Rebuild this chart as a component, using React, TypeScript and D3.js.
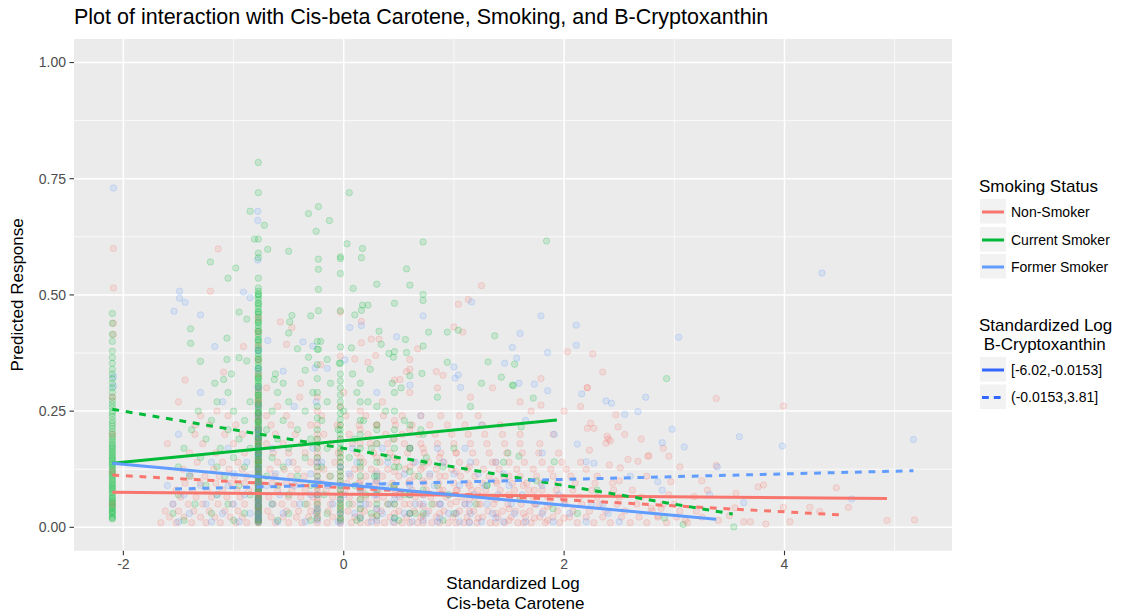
import React from "react";
import * as d3 from "d3";

// ---------- data ----------
const chartTitle = "Plot of interaction with Cis-beta Carotene, Smoking, and B-Cryptoxanthin";
const xTicks = [-2, 0, 2, 4];
const xMinor = [-1, 1, 3, 5];
const yTicks = [0, 0.25, 0.5, 0.75, 1.0];
const yMinor = [0.125, 0.375, 0.625, 0.875];

const smokingGroups = ["Non-Smoker", "Current Smoker", "Former Smoker"];
const groupColors = ["#F8766D", "#00BA38", "#619CFF"];
const cryptoBands = ["[-6.02,-0.0153]", "(-0.0153,3.81]"];

// fitted lines: [group index, band index, x0, y0, x1, y1]
const fitLines: [number, number, number, number, number, number][] = [
  [0, 0, -2.1, 0.0753, 4.93, 0.062],
  [0, 1, -2.1, 0.1125, 4.52, 0.0265],
  [1, 0, -2.1, 0.138, 1.934, 0.231],
  [1, 1, -2.1, 0.254, 3.53, 0.0286],
  [2, 0, -2.1, 0.138, 3.38, 0.0172],
  [2, 1, -1.53, 0.0824, 5.17, 0.1218],
];

// stacked columns of points: [x, y values]
const nonSmokerColumns: [number, number[]][] = [
  [-2.1, [0.05, 0.12, 0.2, 0.28]],
  [-0.775, [0.01, 0.02, 0.03, 0.04, 0.05, 0.06, 0.07, 0.08, 0.095, 0.11, 0.125, 0.14, 0.16, 0.18, 0.2, 0.23, 0.26, 0.29]],
  [-0.775, [0.015, 0.025, 0.035, 0.045, 0.055, 0.065, 0.075, 0.088, 0.1, 0.118, 0.132, 0.15, 0.17, 0.19, 0.215, 0.245, 0.275]],
  [-0.775, [0.012, 0.028, 0.042, 0.058, 0.072, 0.09, 0.105, 0.122, 0.145, 0.165, 0.185, 0.21, 0.238, 0.268, 0.3, 0.33, 0.36, 0.39, 0.42, 0.45]],
  [-0.24, [0.01, 0.025, 0.04, 0.055, 0.07, 0.085, 0.1, 0.12, 0.14, 0.16, 0.19, 0.22, 0.25, 0.28]],
  [-0.24, [0.018, 0.032, 0.048, 0.062, 0.078, 0.093, 0.11, 0.13, 0.15, 0.175, 0.2]],
  [-0.03, [0.008, 0.02, 0.035, 0.05, 0.065, 0.08, 0.1, 0.12, 0.14, 0.165, 0.19, 0.22, 0.26]],
  [-0.03, [0.014, 0.028, 0.042, 0.058, 0.072, 0.09, 0.11, 0.13, 0.152]],
  [0.15, [0.01, 0.025, 0.04, 0.06, 0.08, 0.1, 0.125, 0.15, 0.18, 0.21, 0.25]],
  [0.3, [0.01, 0.025, 0.04, 0.06, 0.08, 0.1, 0.12, 0.15, 0.18, 0.22]],
  [0.46, [0.01, 0.03, 0.05, 0.07, 0.09, 0.12, 0.15, 0.19, 0.23]],
  [0.6, [0.01, 0.03, 0.05, 0.07, 0.1, 0.13, 0.17, 0.21]],
  [0.72, [0.01, 0.025, 0.045, 0.07, 0.1, 0.13, 0.17]],
  [0.87, [0.01, 0.03, 0.05, 0.08, 0.11, 0.15]],
  [1.02, [0.01, 0.03, 0.055, 0.08, 0.12, 0.16]],
  [1.14, [0.012, 0.035, 0.06, 0.09, 0.13]],
  [1.22, [0.02, 0.05, 0.08]],
  [1.38, [0.01, 0.03, 0.06, 0.1, 0.14]],
  [1.5, [0.015, 0.04, 0.07, 0.11]],
  [1.63, [0.01, 0.03, 0.06, 0.09]],
  [1.73, [0.02, 0.05, 0.08]],
  [1.85, [0.015, 0.045]],
  [2.0, [0.02, 0.06]],
];

const currentColumns: [number, number[]][] = [
  [-2.1, [0.018, 0.022, 0.027, 0.031, 0.036, 0.04, 0.046, 0.052, 0.058, 0.065, 0.07, 0.078, 0.085, 0.092, 0.1, 0.108, 0.115, 0.122, 0.13, 0.137, 0.145, 0.152, 0.16, 0.168, 0.176, 0.185, 0.195, 0.205, 0.218, 0.23, 0.245, 0.258, 0.272, 0.29, 0.31, 0.33, 0.353, 0.379, 0.439, 0.46]],
  [-2.1, [0.02, 0.033, 0.043, 0.049, 0.055, 0.062, 0.074, 0.082, 0.089, 0.096, 0.104, 0.112, 0.119, 0.126, 0.134, 0.141, 0.148, 0.156, 0.164, 0.172, 0.18, 0.19, 0.2, 0.212, 0.224, 0.238, 0.25, 0.265, 0.28, 0.3, 0.32, 0.34, 0.365, 0.4, 0.415]],
  [-0.775, [0.01, 0.014, 0.019, 0.023, 0.028, 0.033, 0.038, 0.042, 0.047, 0.052, 0.057, 0.061, 0.066, 0.071, 0.076, 0.081, 0.085, 0.09, 0.095, 0.1, 0.105, 0.11, 0.114, 0.119, 0.124, 0.129, 0.134, 0.139, 0.144, 0.149, 0.154, 0.159, 0.164, 0.169, 0.174, 0.18, 0.185, 0.19, 0.196, 0.202, 0.208, 0.214, 0.22, 0.227, 0.234, 0.241, 0.248, 0.256, 0.264, 0.272, 0.28, 0.29, 0.3, 0.31, 0.32, 0.33, 0.342, 0.355, 0.368, 0.38, 0.392, 0.404, 0.416, 0.428, 0.44, 0.452, 0.464, 0.476, 0.49, 0.502, 0.515, 0.536, 0.58, 0.59, 0.62, 0.72, 0.785]],
  [-0.775, [0.012, 0.017, 0.021, 0.026, 0.031, 0.036, 0.04, 0.044, 0.05, 0.055, 0.059, 0.064, 0.069, 0.074, 0.079, 0.083, 0.088, 0.093, 0.098, 0.103, 0.108, 0.112, 0.117, 0.122, 0.127, 0.132, 0.137, 0.142, 0.147, 0.152, 0.157, 0.162, 0.167, 0.172, 0.177, 0.183, 0.188, 0.193, 0.199, 0.205, 0.211, 0.217, 0.224, 0.231, 0.238, 0.245, 0.252, 0.26, 0.268, 0.276, 0.285, 0.295, 0.305, 0.315, 0.325, 0.336, 0.348, 0.361, 0.374, 0.386, 0.398, 0.41, 0.422, 0.434, 0.446, 0.458, 0.47, 0.482, 0.496, 0.508]],
  [-0.775, [0.016, 0.03, 0.046, 0.062, 0.078, 0.094, 0.11, 0.126, 0.142, 0.158, 0.175, 0.192, 0.21, 0.228, 0.246, 0.265, 0.284, 0.303, 0.322, 0.342, 0.362, 0.382, 0.402, 0.422, 0.442, 0.462, 0.482, 0.5]],
  [-0.24, [0.02, 0.035, 0.05, 0.07, 0.09, 0.11, 0.13, 0.15, 0.17, 0.19, 0.21, 0.235, 0.26, 0.29, 0.32, 0.35, 0.383, 0.4]],
  [-0.03, [0.015, 0.03, 0.045, 0.06, 0.08, 0.1, 0.12, 0.14, 0.16, 0.18, 0.2, 0.22, 0.245, 0.27, 0.3, 0.33, 0.353, 0.388, 0.466, 0.546, 0.578, 0.582]],
  [-0.03, [0.02, 0.038, 0.052, 0.07, 0.09, 0.11, 0.13, 0.15, 0.17, 0.19, 0.21, 0.232, 0.258, 0.285, 0.315]],
  [0.15, [0.02, 0.04, 0.06, 0.085, 0.11, 0.14, 0.17, 0.2, 0.23, 0.27, 0.31]],
  [0.3, [0.025, 0.05, 0.08, 0.11, 0.14, 0.18, 0.22, 0.26]],
  [0.46, [0.02, 0.05, 0.09, 0.13, 0.17, 0.21, 0.25, 0.29]],
  [0.6, [0.03, 0.07, 0.12, 0.17, 0.22]],
  [0.72, [0.03, 0.08, 0.14, 0.2]],
];

const formerColumns: [number, number[]][] = [
  [-0.775, [0.012, 0.03, 0.05, 0.08, 0.11, 0.15, 0.19, 0.24]],
  [-0.775, [0.02, 0.04, 0.065, 0.095, 0.13, 0.17, 0.21]],
  [-0.775, [0.025, 0.055, 0.09, 0.12, 0.16, 0.2, 0.26, 0.3, 0.34, 0.38]],
  [-0.24, [0.015, 0.04, 0.07, 0.1, 0.14]],
  [-0.03, [0.01, 0.03, 0.06, 0.09, 0.13]],
  [0.15, [0.02, 0.05, 0.08]],
  [0.3, [0.015, 0.04, 0.07, 0.1]],
  [0.46, [0.02, 0.06]],
  [0.6, [0.03, 0.07]],
  [0.72, [0.015, 0.05]],
  [0.87, [0.02, 0.05]],
  [1.02, [0.03]],
  [1.14, [0.01, 0.05]],
  [1.38, [0.02]],
];

// dense low band, by rows: [y, x values]
const nonSmokerRows: [number, number[]][] = [
  [0.01, [-1.66, -1.52, -1.38, -1.25, -1.12, -0.98, -0.88, -0.62, -0.5, -0.38, -0.15, 0.07, 0.22, 0.37, 0.53, 0.67, 0.8, 0.95, 1.09, 1.21, 1.33, 1.46, 1.58, 1.7, 1.83, 1.96, 2.12, 2.27, 2.42, 2.6, 2.75, 2.93, 3.12]],
  [0.022, [-1.58, -1.45, -1.3, -1.17, -1.03, -0.92, -0.66, -0.55, -0.43, -0.32, -0.1, 0.1, 0.26, 0.42, 0.57, 0.7, 0.84, 0.99, 1.12, 1.26, 1.4, 1.52, 1.65, 1.78, 1.9, 2.05, 2.2, 2.35, 2.52, 2.68, 2.85, 3.02, 3.25]],
  [0.035, [-1.62, -1.5, -1.36, -1.22, -1.08, -0.96, -0.69, -0.52, -0.41, -0.3, -0.14, 0.04, 0.19, 0.34, 0.5, 0.64, 0.77, 0.91, 1.05, 1.18, 1.31, 1.44, 1.56, 1.69, 1.81, 1.94, 2.08, 2.23, 2.38, 2.55, 2.8, 3.05]],
  [0.05, [-1.55, -1.41, -1.28, -1.14, -1.01, -0.9, -0.64, -0.56, -0.45, -0.33, -0.12, 0.08, 0.23, 0.4, 0.55, 0.69, 0.82, 0.97, 1.1, 1.24, 1.36, 1.49, 1.61, 1.74, 1.87, 2.01, 2.16, 2.32, 2.48, 2.66, 2.9]],
  [0.065, [-1.48, -1.34, -1.2, -1.06, -0.94, -0.68, -0.5, -0.39, -0.28, -0.1, 0.05, 0.2, 0.36, 0.51, 0.65, 0.79, 0.93, 1.07, 1.19, 1.33, 1.47, 1.6, 1.72, 1.85, 1.99, 2.14, 2.3, 2.5, 2.7]],
  [0.08, [-1.52, -1.37, -1.24, -1.1, -0.97, -0.86, -0.6, -0.47, -0.35, -0.16, 0.01, 0.17, 0.32, 0.47, 0.62, 0.75, 0.9, 1.03, 1.16, 1.29, 1.42, 1.55, 1.68, 1.8, 1.93, 2.08, 2.25, 2.45, 2.62]],
  [0.095, [-1.44, -1.3, -1.16, -1.02, -0.9, -0.65, -0.52, -0.4, -0.2, 0.03, 0.14, 0.29, 0.44, 0.59, 0.73, 0.86, 1.0, 1.13, 1.26, 1.39, 1.53, 1.66, 1.79, 1.94, 2.1, 2.28, 2.44]],
  [0.11, [-1.39, -1.26, -1.13, -0.99, -0.88, -0.63, -0.48, -0.36, -0.13, 0.06, 0.2, 0.35, 0.5, 0.64, 0.78, 0.92, 1.06, 1.19, 1.32, 1.45, 1.6, 1.75, 1.9, 2.06, 2.3]],
  [0.125, [-1.46, -1.18, -1.04, -0.92, -0.67, -0.54, -0.42, -0.18, 0.1, 0.25, 0.4, 0.56, 0.7, 0.84, 0.98, 1.12, 1.27, 1.41, 1.57, 1.72, 1.88, 2.02, 2.2]],
  [0.14, [-1.33, -1.1, -0.96, -0.6, -0.46, -0.3, -0.08, 0.18, 0.33, 0.48, 0.63, 0.77, 0.91, 1.05, 1.2, 1.35, 1.5, 1.64, 1.8, 1.98, 2.15]],
  [0.16, [-1.4, -1.16, -0.9, -0.64, -0.5, -0.35, -0.05, 0.12, 0.27, 0.42, 0.58, 0.73, 0.88, 1.02, 1.17, 1.32, 1.48, 1.62, 1.77, 1.95]],
  [0.18, [-1.28, -1.0, -0.7, -0.55, -0.38, -0.12, 0.08, 0.24, 0.4, 0.55, 0.7, 0.85, 1.0, 1.15, 1.3, 1.46, 1.6, 1.78]],
  [0.2, [-1.35, -1.08, -0.92, -0.62, -0.44, -0.18, 0.05, 0.22, 0.38, 0.53, 0.68, 0.83, 0.98, 1.13, 1.28, 1.44, 1.6]],
  [0.22, [-1.22, -0.98, -0.66, -0.48, -0.3, -0.06, 0.14, 0.3, 0.47, 0.62, 0.78, 0.94, 1.1, 1.26, 1.42]],
  [0.24, [-1.3, -1.05, -0.7, -0.52, -0.2, 0.02, 0.2, 0.36, 0.53, 0.7, 0.88, 1.05, 1.22]],
];

const currentRows: [number, number[]][] = [
  [0.015, [-1.45, -1.0, -0.6, -0.3, 0.12, 0.5, 0.9]],
  [0.03, [-1.55, -1.2, -0.9, -0.5, -0.15, 0.25, 0.65, 1.0]],
  [0.05, [-1.35, -1.05, -0.65, -0.35, 0.05, 0.4, 0.8, 1.2]],
  [0.07, [-1.5, -1.15, -0.85, -0.5, -0.18, 0.2, 0.55, 0.95]],
  [0.09, [-1.25, -0.95, -0.6, -0.3, 0.1, 0.45, 0.85, 1.3]],
  [0.11, [-1.4, -1.08, -0.7, -0.42, -0.12, 0.28, 0.68]],
  [0.13, [-1.5, -1.15, -0.9, -0.55, -0.2, 0.15, 0.5, 0.9]],
  [0.15, [-1.3, -1.0, -0.65, -0.35, 0.05, 0.4, 0.75]],
  [0.17, [-1.45, -1.12, -0.85, -0.5, -0.15, 0.25, 0.6, 1.0]],
  [0.19, [-1.25, -0.95, -0.6, -0.3, 0.1, 0.45]],
  [0.21, [-1.38, -1.05, -0.7, -0.42, -0.05, 0.3, 0.7]],
  [0.23, [-1.2, -0.9, -0.55, -0.2, 0.18, 0.55]],
  [0.25, [-1.32, -1.0, -0.65, -0.35, 0.0, 0.38]],
  [0.27, [-1.15, -0.85, -0.5, -0.15, 0.22]],
  [0.29, [-1.05, -0.6, -0.28, 0.12]],
];

const formerRows: [number, number[]][] = [
  [0.012, [-1.5, -1.2, -0.95, -0.6, -0.35, -0.05, 0.25, 0.45, 0.62, 0.85, 1.05, 1.25, 1.45, 1.65, 1.9, 2.2, 2.5]],
  [0.03, [-1.4, -1.1, -0.85, -0.55, -0.25, 0.1, 0.35, 0.55, 0.75, 0.95, 1.15, 1.35, 1.55, 1.8, 2.05, 2.4]],
  [0.05, [-1.55, -1.25, -1.0, -0.65, -0.4, -0.1, 0.2, 0.42, 0.65, 0.88, 1.1, 1.3, 1.52, 1.75, 2.0, 2.35]],
  [0.07, [-1.45, -1.15, -0.9, -0.58, -0.3, 0.0, 0.28, 0.5, 0.72, 0.95, 1.18, 1.4, 1.62, 1.95]],
  [0.09, [-1.3, -1.05, -0.7, -0.45, -0.15, 0.15, 0.38, 0.6, 0.82, 1.05, 1.28, 1.5, 1.8]],
  [0.115, [-1.4, -1.0, -0.62, -0.3, 0.05, 0.3, 0.55, 0.78, 1.0, 1.22, 1.45]],
  [0.14, [-1.2, -0.88, -0.5, -0.2, 0.12, 0.4, 0.65, 0.9, 1.15, 1.38]],
  [0.17, [-1.05, -0.65, -0.28, 0.08, 0.35, 0.6, 0.85, 1.1]],
];

// scattered points: [x, y]
const nonSmokerPoints: [number, number][] = [
  [-2.09, 0.6], [-1.14, 0.599], [-2.09, 0.515], [-1.21, 0.508], [-2.09, 0.439], [-2.09, 0.415], [-0.91, 0.389], [-1.44, 0.317],
  [-1.09, 0.334], [-0.575, 0.442], [-0.47, 0.43], [-0.52, 0.394], [-0.03, 0.463], [0.16, 0.443], [0.16, 0.397], [0.25, 0.405],
  [0.32, 0.405], [0.29, 0.37], [0.22, 0.355], [0.1, 0.362], [-0.03, 0.368], [-0.21, 0.35], [-0.39, 0.31], [1.25, 0.52],
  [1.04, 0.48], [1.13, 0.49], [1.0, 0.431], [1.08, 0.42], [0.67, 0.384], [2.03, 0.378], [2.26, 0.373], [0.6, 0.361],
  [0.6, 0.34], [0.57, 0.335], [0.84, 0.335], [0.9, 0.327], [2.35, 0.334], [1.79, 0.32], [2.21, 0.301], [0.46, 0.317], [0.51, 0.318],
  [3.38, 0.277], [3.99, 0.261], [3.38, 0.133], [4.47, 0.085], [4.58, 0.043], [4.93, 0.015], [5.18, 0.016], [4.23, 0.043],
  [4.32, 0.034], [4.05, 0.012], [3.76, 0.087], [3.81, 0.091], [3.56, 0.073], [3.63, 0.012], [3.69, 0.012], [3.83, 0.007],
  [3.99, 0.043], [3.55, 0.042], [2.95, 0.153], [2.76, 0.153], [2.47, 0.242], [2.49, 0.216], [2.21, 0.3], [1.79, 0.263],
  [2.21, 0.213], [2.24, 0.224], [2.27, 0.213], [2.39, 0.196], [2.38, 0.181], [2.42, 0.186], [2.58, 0.146], [2.67, 0.142],
  [2.77, 0.154], [2.23, 0.166], [2.41, 0.134], [2.51, 0.128], [2.97, 0.098], [3.18, 0.066], [3.3, 0.08], [2.79, 0.041], [2.88, 0.041],
  [-1.6, 0.18], [-1.5, 0.27], [-1.35, 0.22], [-1.15, 0.25], [-0.7, 0.3], [-0.6, 0.26], [-0.4, 0.28], [0.0, 0.29],
  [0.35, 0.27], [0.6, 0.29], [0.85, 0.3], [1.15, 0.28], [1.35, 0.3], [1.6, 0.27], [2.0, 0.25], [2.15, 0.26],
  [1.7, 0.25], [1.9, 0.2], [2.4, 0.19], [2.55, 0.2], [2.7, 0.19], [2.9, 0.17], [3.05, 0.13], [3.5, 0.025], [3.4, 0.015],
  [2.5, 0.1], [2.95, 0.07], [2.75, 0.11], [2.85, 0.025], [3.0, 0.05], [3.1, 0.015], [3.2, 0.035], [3.25, 0.1],
];

const currentPoints: [number, number][] = [
  [-0.85, 0.68], [-0.72, 0.65], [-0.81, 0.62], [-0.69, 0.598], [-0.5, 0.594], [-0.32, 0.675], [-0.23, 0.69], [-0.13, 0.66],
  [-0.25, 0.637], [0.05, 0.72], [0.03, 0.61], [0.17, 0.6], [0.16, 0.58], [-0.23, 0.577], [-0.23, 0.555], [-1.21, 0.571],
  [-0.98, 0.558], [-1.05, 0.536], [0.085, 0.514], [0.3, 0.523], [-0.23, 0.512], [-1.39, 0.427], [-1.39, 0.396], [-1.3, 0.357],
  [-1.06, 0.407], [-1.06, 0.361], [-0.95, 0.463], [-0.88, 0.448], [-0.95, 0.365], [-1.02, 0.33], [-1.17, 0.31], [-1.09, 0.318],
  [-0.88, 0.358], [-0.47, 0.456], [-0.49, 0.442], [-0.5, 0.418], [-0.3, 0.455], [-0.23, 0.466], [-0.42, 0.384], [-0.32, 0.366],
  [-0.23, 0.383], [-0.21, 0.4], [0.1, 0.457], [0.16, 0.467], [0.17, 0.478], [0.22, 0.478], [0.07, 0.386], [0.32, 0.422],
  [0.34, 0.394], [0.46, 0.482], [0.41, 0.374], [0.46, 0.378], [0.45, 0.366], [0.57, 0.376], [-0.04, 0.353], [-0.15, 0.361],
  [-0.35, 0.338], [-0.63, 0.318], [0.72, 0.614], [1.84, 0.616], [0.57, 0.556], [0.6, 0.521], [0.72, 0.501], [0.72, 0.488],
  [0.77, 0.42], [0.94, 0.42], [1.04, 0.424], [1.37, 0.412], [0.56, 0.404], [0.72, 0.39], [1.55, 0.351], [1.31, 0.356],
  [0.94, 0.355], [0.71, 0.331], [0.6, 0.326], [1.43, 0.323], [1.54, 0.305], [2.93, 0.32], [0.44, 0.31],
  [1.6, 0.06], [1.75, 0.1], [1.9, 0.04], [2.3, 0.08], [3.08, 0.006], [3.54, 0.001], [1.45, 0.14], [1.3, 0.09],
  [1.53, 0.306], [1.72, 0.278], [1.61, 0.216], [1.91, 0.141], [1.59, 0.153], [1.49, 0.16], [2.12, 0.03], [2.91, 0.02],
  [-0.62, 0.33], [-0.55, 0.31], [-0.12, 0.31], [0.08, 0.33], [0.24, 0.34], [0.52, 0.3], [0.85, 0.28], [1.15, 0.26], [1.25, 0.31],
];

const formerPoints: [number, number][] = [
  [-2.09, 0.73], [-2.09, 0.324], [-2.09, 0.304], [-0.78, 0.68], [-0.78, 0.66], [-0.78, 0.575], [-1.49, 0.508], [-1.49, 0.493],
  [-1.44, 0.484], [-1.54, 0.465], [-1.3, 0.457], [-0.91, 0.506], [-0.85, 0.494], [-1.17, 0.389], [-0.69, 0.402], [0.16, 0.434],
  [0.055, 0.43], [0.48, 0.41], [0.01, 0.36], [-0.15, 0.342], [-0.26, 0.343], [-0.55, 0.336], [-0.37, 0.399], [-0.28, 0.39],
  [1.16, 0.485], [0.72, 0.455], [1.79, 0.455], [2.11, 0.435], [2.11, 0.392], [3.04, 0.409], [1.6, 0.417], [1.53, 0.387],
  [1.85, 0.376], [1.57, 0.364], [1.46, 0.353], [1.0, 0.345], [1.04, 0.328], [1.01, 0.321], [1.59, 0.31], [1.73, 0.308],
  [1.06, 0.301], [0.6, 0.306], [4.34, 0.547],
  [3.59, 0.195], [3.98, 0.175], [5.17, 0.189], [2.98, 0.211], [2.89, 0.182], [3.09, 0.173], [3.39, 0.13], [4.61, 0.061],
  [3.63, 0.053], [2.55, 0.243], [2.67, 0.249], [2.74, 0.28], [2.38, 0.272], [2.43, 0.267], [2.16, 0.287], [1.85, 0.294],
  [1.91, 0.2], [2.12, 0.179], [2.27, 0.138], [2.2, 0.141], [2.85, 0.098], [2.89, 0.08], [3.32, 0.07],
  [-1.1, 0.27], [-1.3, 0.29], [-0.25, 0.27], [0.3, 0.29], [0.7, 0.24], [1.25, 0.22], [-0.45, 0.26], [1.65, 0.23],
  [1.8, 0.16], [2.25, 0.05], [2.6, 0.11], [-1.6, 0.09], [-1.5, 0.2],
];

// ---------- component ----------
const FONT = "'Liberation Sans', Arial, Helvetica, sans-serif";

function expandCols(cols: [number, number[]][]): [number, number][] {
  const out: [number, number][] = [];
  cols.forEach(([cx, ys]) => ys.forEach((v) => out.push([cx, v])));
  return out;
}
function expandRows(rows: [number, number[]][]): [number, number][] {
  const out: [number, number][] = [];
  rows.forEach(([ry, xs]) => xs.forEach((v) => out.push([v, ry])));
  return out;
}

type Pt = { x: number; y: number; g: number };

export default function App() {
  const left = 74, right = 952, top = 39, bottom = 550.7;
  const x = d3.scaleLinear().domain([-2.448, 5.52]).range([left, right]);
  const y = d3.scaleLinear().domain([-0.0503, 1.0506]).range([bottom, top]);
  const line = d3.line<[number, number]>().x((d) => x(d[0])).y((d) => y(d[1]));

  const groups = [
    nonSmokerPoints.concat(expandRows(nonSmokerRows), expandCols(nonSmokerColumns)),
    currentPoints.concat(expandRows(currentRows), expandCols(currentColumns)),
    formerPoints.concat(expandRows(formerRows), expandCols(formerColumns)),
  ];
  // interleave the groups so colours mix like rows of a data frame
  const allPts: Pt[] = [];
  const maxLen = d3.max(groups, (g) => g.length) || 0;
  for (let i = 0; i < maxLen; i++) {
    groups.forEach((g, gi) => {
      const k0 = Math.floor((i * g.length) / maxLen);
      const k1 = Math.floor(((i + 1) * g.length) / maxLen);
      for (let k = k0; k < k1; k++) allPts.push({ x: g[k][0], y: g[k][1], g: gi });
    });
  }

  const yFmt = d3.format(".2f");
  const legX = 980;
  const keyW = 26, keyH = 26;
  const legend1Rows = [212, 240, 267];
  const legend2Rows = [370, 397.5];

  return (
    <svg width={1121} height={616} style={{ position: "absolute", left: 0, top: 0, background: "#fff" }} fontFamily={FONT}>
      <rect x={0} y={0} width={1121} height={616} fill="#fff" />
      {/* panel */}
      <rect x={left} y={top} width={right - left} height={bottom - top} fill="#EBEBEB" />
      {xMinor.map((t) => (
        <line key={"xm" + t} x1={x(t)} x2={x(t)} y1={top} y2={bottom} stroke="#fff" strokeWidth={0.75} />
      ))}
      {yMinor.map((t) => (
        <line key={"ym" + t} y1={y(t)} y2={y(t)} x1={left} x2={right} stroke="#fff" strokeWidth={0.75} />
      ))}
      {xTicks.map((t) => (
        <line key={"xg" + t} x1={x(t)} x2={x(t)} y1={top} y2={bottom} stroke="#fff" strokeWidth={1.5} />
      ))}
      {yTicks.map((t) => (
        <line key={"yg" + t} y1={y(t)} y2={y(t)} x1={left} x2={right} stroke="#fff" strokeWidth={1.5} />
      ))}

      {/* points */}
      <g>
        {allPts.map((p, i) => (
          <circle
            key={i}
            cx={x(p.x)}
            cy={y(p.y)}
            r={3.2}
            fill={groupColors[p.g]}
            fillOpacity={0.15}
            stroke={groupColors[p.g]}
            strokeOpacity={0.22}
            strokeWidth={1}
          />
        ))}
      </g>

      {/* fitted lines */}
      {fitLines.map(([g, b, x0, y0, x1, y1], i) => (
        <path
          key={"fl" + i}
          d={line([[x0, y0], [x1, y1]]) || ""}
          fill="none"
          stroke={groupColors[g]}
          strokeWidth={3}
          strokeDasharray={b === 1 ? "6.8 6.8" : undefined}
        />
      ))}

      {/* axes */}
      {yTicks.map((t) => (
        <g key={"yt" + t}>
          <line x1={left - 4.5} x2={left} y1={y(t)} y2={y(t)} stroke="#333" strokeWidth={1.1} />
          <text x={left - 8} y={y(t) + 4.8} textAnchor="end" fontSize={14} fill="#4D4D4D">
            {yFmt(t)}
          </text>
        </g>
      ))}
      {xTicks.map((t) => (
        <g key={"xt" + t}>
          <line x1={x(t)} x2={x(t)} y1={bottom} y2={bottom + 4.5} stroke="#333" strokeWidth={1.1} />
          <text x={x(t)} y={568.5} textAnchor="middle" fontSize={14} fill="#4D4D4D">
            {t}
          </text>
        </g>
      ))}

      {/* titles */}
      <text x={left} y={24} fontSize={21.5} fill="#000">
        {chartTitle}
      </text>
      <text transform={`translate(23,${(top + bottom) / 2}) rotate(-90)`} textAnchor="middle" fontSize={17} fill="#000">
        Predicted Response
      </text>
      <text x={(left + right) / 2} y={589} textAnchor="middle" fontSize={17} fill="#000" style={{ whiteSpace: "pre" }}>
        Standardized Log
      </text>
      <text x={(left + right) / 2} y={609} textAnchor="middle" fontSize={17} fill="#000" style={{ whiteSpace: "pre" }}>
        {" Cis-beta Carotene"}
      </text>

      {/* legend 1 */}
      <text x={979} y={192} fontSize={17} fill="#000">
        Smoking Status
      </text>
      {smokingGroups.map((g, i) => (
        <g key={"lg1" + i}>
          <rect x={legX} y={legend1Rows[i] - keyH / 2} width={keyW} height={keyH - 1.5} fill="#F2F2F2" />
          <line x1={legX + 2} x2={legX + keyW - 2} y1={legend1Rows[i]} y2={legend1Rows[i]} stroke={groupColors[i]} strokeWidth={3} />
          <text x={1011} y={legend1Rows[i] + 4.8} fontSize={14} fill="#000">
            {g}
          </text>
        </g>
      ))}

      {/* legend 2 */}
      <text x={979} y={331} fontSize={17} fill="#000">
        Standardized Log
      </text>
      <text x={979} y={350} fontSize={17} fill="#000" style={{ whiteSpace: "pre" }}>
        {" B-Cryptoxanthin"}
      </text>
      {cryptoBands.map((b, i) => (
        <g key={"lg2" + i}>
          <rect x={legX} y={legend2Rows[i] - keyH / 2} width={keyW} height={keyH - 1.5} fill="#F2F2F2" />
          <line
            x1={legX + 2}
            x2={legX + keyW - 2}
            y1={legend2Rows[i]}
            y2={legend2Rows[i]}
            stroke="#3366FF"
            strokeWidth={3}
            strokeDasharray={i === 1 ? "6.8 5" : undefined}
          />
          <text x={1011} y={legend2Rows[i] + 4.8} fontSize={14} fill="#000">
            {b}
          </text>
        </g>
      ))}
    </svg>
  );
}
